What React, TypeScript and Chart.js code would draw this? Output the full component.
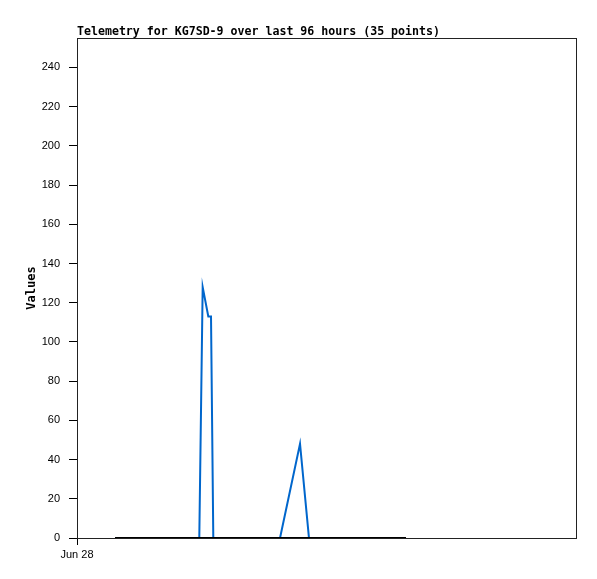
import React, { useEffect, useRef } from 'react';
import { Chart, registerables } from 'chart.js';

Chart.register(...registerables);

const TITLE = 'Telemetry for KG7SD-9 over last 96 hours (35 points)';
const Y_LABEL = 'Values';
const X_TICK_LABEL = 'Jun 28';

const X_MIN = 0;
const X_MAX = 96;
const Y_MIN = 0;
const Y_MAX = 255;
const Y_STEP = 20;

// hours since the left edge of the axis
const blueHours = [7.3, 23.48, 24.13, 25.21, 25.73, 26.17, 38.98, 42.82, 44.54, 63.17];
const blueValues = [0, 0, 128, 113, 113, 0, 0, 48, 0, 0];

const blackHours = [7.3, 63.17];
const blackValues = [0, 0];

const framePlugin = {
  id: 'frameAndTitle',
  afterDatasetsDraw(chart: any) {
    const { ctx, chartArea: a } = chart;
    ctx.save();
    ctx.strokeStyle = '#222';
    ctx.lineWidth = 1;
    const l = Math.round(a.left) + 0.5;
    const t = Math.round(a.top) + 0.5;
    const r = Math.round(a.right) - 0.5;
    const b = Math.round(a.bottom) + 0.5;
    ctx.strokeRect(l, t, r - l, b - t);
    ctx.restore();
  },
  afterDraw(chart: any) {
    const { ctx, chartArea: a } = chart;
    ctx.save();
    ctx.fillStyle = '#000';
    ctx.font = 'bold 11.6px "DejaVu Sans Mono"';
    ctx.textAlign = 'left';
    ctx.textBaseline = 'alphabetic';
    ctx.fillText(TITLE, a.left, a.top - 3);
    ctx.restore();
  },
};

export default function App() {
  const ref = useRef<HTMLCanvasElement>(null);

  useEffect(() => {
    document.body.style.margin = '0';
    const canvas = ref.current;
    if (!canvas) return;
    const chart = new Chart(canvas, {
      type: 'line',
      data: {
        datasets: [
          {
            data: blackHours.map((x, i) => ({ x, y: blackValues[i] })),
            borderColor: '#000000',
            borderWidth: 2,
            pointRadius: 0,
            tension: 0,
            order: 0,
          },
          {
            data: blueHours.map((x, i) => ({ x, y: blueValues[i] })),
            borderColor: '#0066cc',
            borderWidth: 2,
            pointRadius: 0,
            tension: 0,
            order: 1,
          },
        ],
      },
      options: {
        responsive: false,
        animation: false,
        events: [],
        layout: { padding: { top: 38, right: 20, left: 0, bottom: 0 } },
        plugins: {
          legend: { display: false },
          tooltip: { enabled: false },
          title: { display: false },
        },
        scales: {
          x: {
            type: 'linear',
            min: X_MIN,
            max: X_MAX,
            border: { display: false },
            grid: { drawOnChartArea: false, drawTicks: true, tickLength: 7, color: '#000' },
            ticks: {
              autoSkip: false,
              maxRotation: 0,
              padding: 3,
              color: '#000',
              font: { family: '"Liberation Sans"', size: 11 },
              callback: () => X_TICK_LABEL,
            },
            afterBuildTicks: (scale: any) => {
              scale.ticks = [{ value: X_MIN }];
            },
            afterFit: (scale: any) => {
              scale.height = 41;
            },
          },
          y: {
            type: 'linear',
            min: Y_MIN,
            max: Y_MAX,
            border: { display: false },
            grid: { drawOnChartArea: false, drawTicks: true, tickLength: 8, color: '#000' },
            ticks: {
              stepSize: Y_STEP,
              padding: 9,
              color: '#000',
              font: { family: '"Liberation Sans"', size: 11 },
            },
            afterBuildTicks: (scale: any) => {
              scale.ticks = scale.ticks.filter((t: any) => t.value % Y_STEP === 0);
            },
            title: {
              display: true,
              text: Y_LABEL,
              color: '#000',
              font: { family: '"DejaVu Sans Mono"', size: 12, weight: 'bold' },
              padding: { top: 25, bottom: 0 },
            },
            afterFit: (scale: any) => {
              scale.width = 77;
            },
          },
        },
      },
      plugins: [framePlugin],
    });
    return () => chart.destroy();
  }, []);

  return <canvas ref={ref} width={597} height={579} style={{ display: 'block' }} />;
}
